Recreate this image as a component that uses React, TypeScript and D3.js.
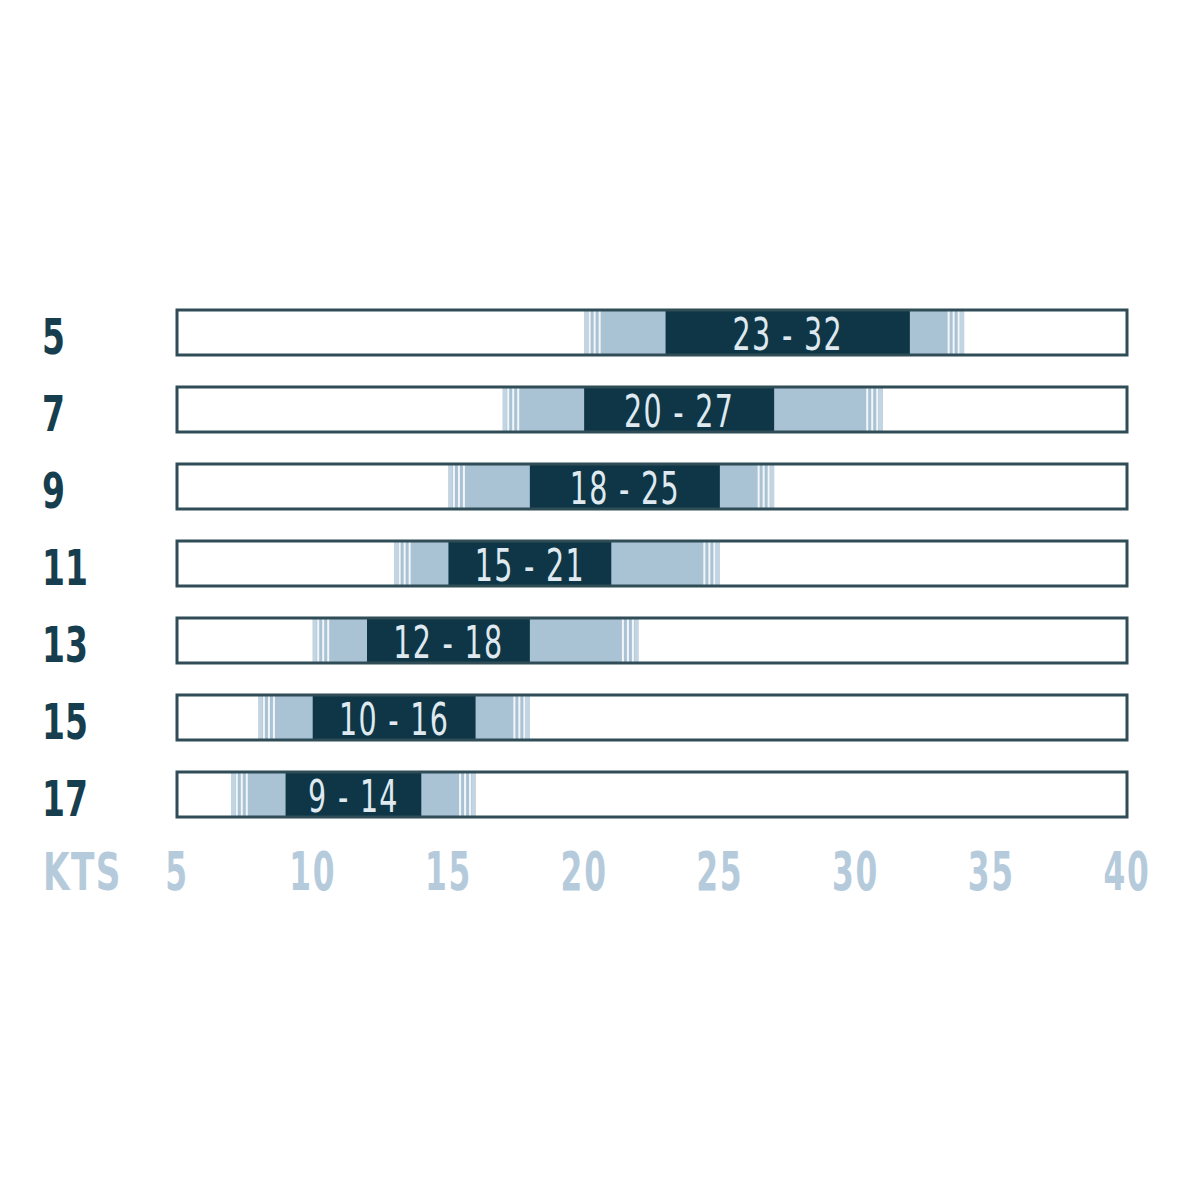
import React from "react";
import * as d3 from "d3";

const categories = ["5", "7", "9", "11", "13", "15", "17"];
const coreLow = [23, 20, 18, 15, 12, 10, 9];
const coreHigh = [32, 27, 25, 21, 18, 16, 14];
const rangeLow = [20, 17, 15, 13, 10, 8, 7];
const rangeHigh = [34, 31, 27, 25, 22, 18, 16];
const xTicks = [5, 10, 15, 20, 25, 30, 35, 40];
const axisTitle = "KTS";

const DARK = "#0e3646";
const LIGHT = "#a9c2d4";
const OUTLINE = "#2f4c57";
const AXIS = "#b5cbdc";
const FONT = "'DejaVu Sans', sans-serif";

function Narrow(props: {
  x: number;
  y: number;
  sx: number;
  anchor?: string;
  fill: string;
  size: number;
  weight?: string;
  spacing?: number;
  children: React.ReactNode;
}) {
  return (
    <text
      transform={`translate(${props.x},${props.y}) scale(${props.sx},1)`}
      textAnchor={props.anchor || "start"}
      fill={props.fill}
      fontFamily={FONT}
      fontWeight={props.weight || "normal"}
      fontSize={props.size}
      letterSpacing={props.spacing || 0}
    >
      {props.children}
    </text>
  );
}

export default function App() {
  const x = d3.scaleLinear().domain([5, 40]).range([177, 1127]);
  const y = d3
    .scaleBand<string>()
    .domain(categories)
    .range([310, 817])
    .paddingInner(0.4156)
    .paddingOuter(0);
  const bw = y.bandwidth();
  const stripeOffsets = [4.5, 9.5, 14.5];

  return (
    <svg width={1200} height={1200} style={{ position: "absolute", left: 0, top: 0, background: "#fff" }}>
      <rect width={1200} height={1200} fill="#ffffff" />
      {categories.map((c, i) => {
        const y0 = y(c)!;
        const l0 = x(rangeLow[i]);
        const l1 = x(rangeHigh[i]);
        const d0 = x(coreLow[i]);
        const d1 = x(coreHigh[i]);
        return (
          <g key={c}>
            <rect x={x(5)} y={y0} width={x(40) - x(5)} height={bw} fill="#ffffff" />
            <rect x={l0} y={y0} width={l1 - l0} height={bw} fill={LIGHT} />
            <rect x={l0} y={y0} width={4} height={bw} fill="#c3d5e2" />
            <rect x={l1 - 4} y={y0} width={4} height={bw} fill="#c3d5e2" />
            {stripeOffsets.map((o) => (
              <g key={o}>
                <rect x={l0 + o} y={y0} width={2} height={bw} fill="#f2f6f9" />
                <rect x={l1 - o - 2} y={y0} width={2} height={bw} fill="#f2f6f9" />
              </g>
            ))}
            <rect x={d0} y={y0} width={d1 - d0} height={bw} fill={DARK} />
            <rect
              x={x(5)}
              y={y0}
              width={x(40) - x(5)}
              height={bw}
              fill="none"
              stroke={OUTLINE}
              strokeWidth={3}
            />
            <Narrow x={(d0 + d1) / 2} y={y0 + bw / 2 + 17.5} sx={0.65} anchor="middle" fill="#dfe9ef" size={44} spacing={2}>
              {`${coreLow[i]} - ${coreHigh[i]}`}
            </Narrow>
            <Narrow x={42} y={y0 + bw / 2 + 21.5} sx={0.66} fill="#163e4e" size={50} weight="bold">
              {c}
            </Narrow>
          </g>
        );
      })}
      <Narrow x={43} y={890} sx={0.66} fill={AXIS} size={52} weight="bold" spacing={2}>
        {axisTitle}
      </Narrow>
      {xTicks.map((t) => (
        <Narrow key={t} x={x(t)} y={890} sx={0.58} anchor="middle" fill={AXIS} size={54} weight="bold" spacing={3}>
          {t}
        </Narrow>
      ))}
    </svg>
  );
}
